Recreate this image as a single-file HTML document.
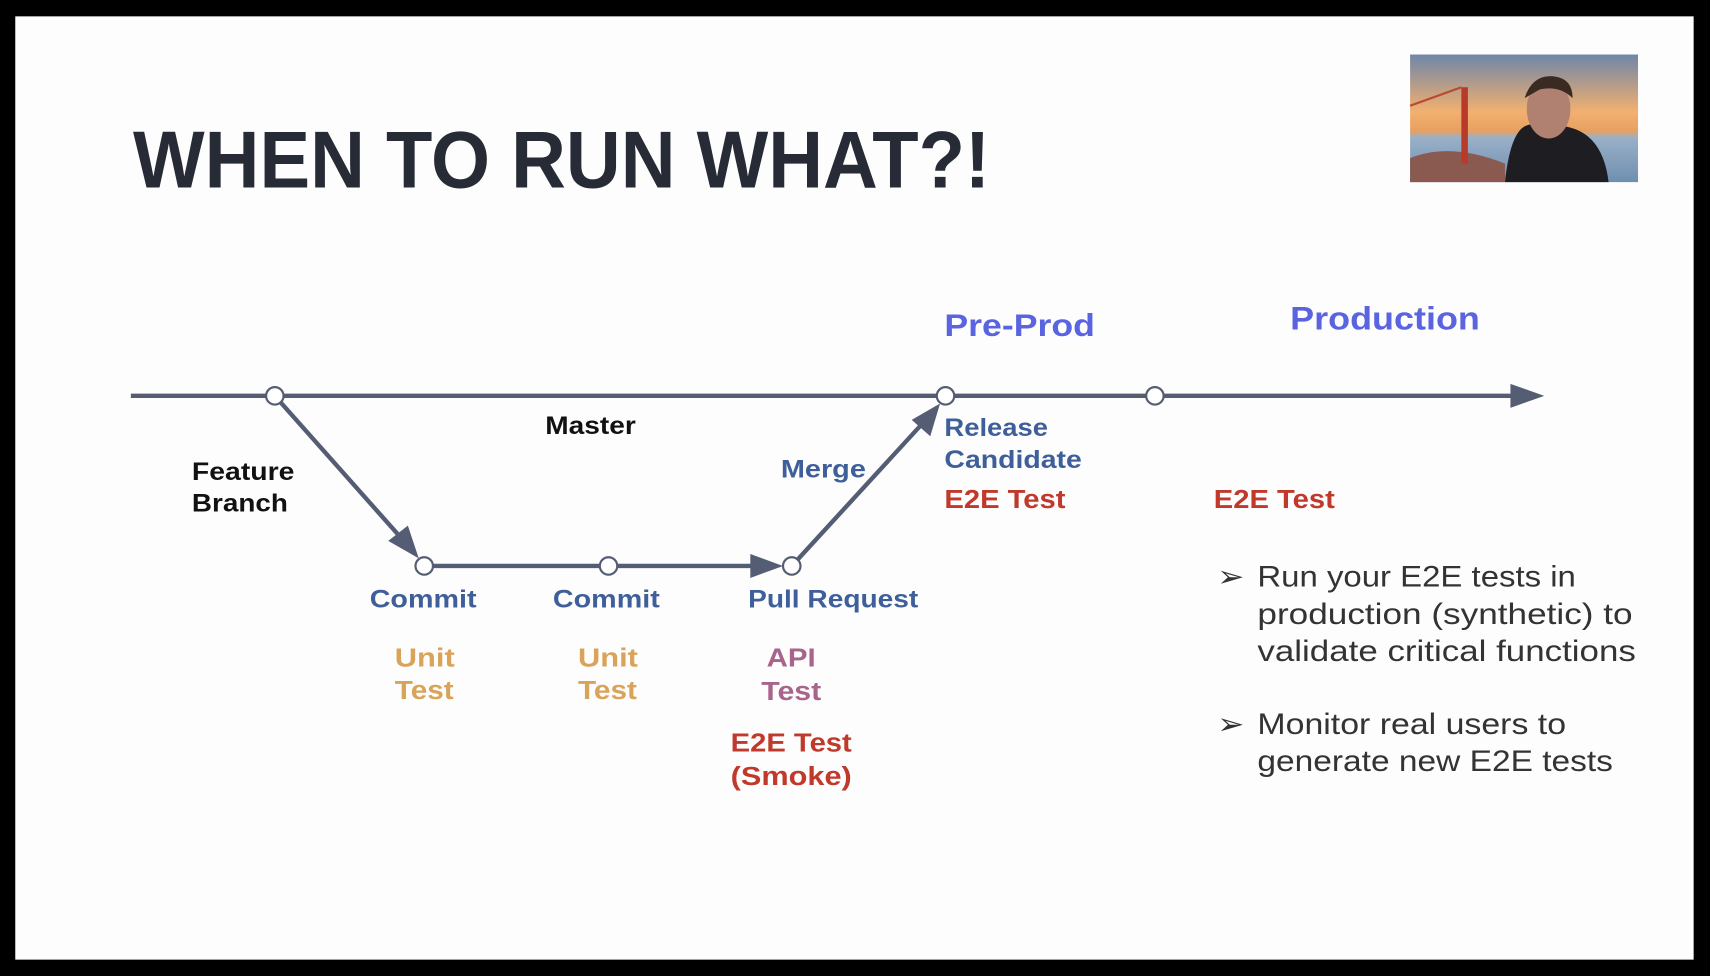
<!DOCTYPE html>
<html><head><meta charset="utf-8"><style>
html,body{margin:0;padding:0;background:#000;}
svg{display:block;}
text{font-family:"Liberation Sans",sans-serif;}
</style></head><body>
<svg width="1710" height="976" viewBox="0 0 1568 895" preserveAspectRatio="none" xmlns="http://www.w3.org/2000/svg">
<rect x="0" y="0" width="1568" height="895" fill="#000"/>
<rect x="14" y="15" width="1539" height="865" fill="#fdfdfd"/>
<defs>
<linearGradient id="sky" x1="0" y1="0" x2="0" y2="1">
<stop offset="0" stop-color="#6f86a8"/><stop offset="0.45" stop-color="#f2b070"/><stop offset="0.6" stop-color="#e8a060"/><stop offset="0.65" stop-color="#9ab0c8"/><stop offset="1" stop-color="#6f8fb0"/>
</linearGradient>
</defs>
<rect x="1293" y="50" width="209" height="117" fill="url(#sky)"/>
<path d="M1293 145 Q1330 130 1380 150 L1380 167 L1293 167Z" fill="#8a5a50"/>
<rect x="1340" y="80" width="6" height="70" fill="#b83a2a"/>
<line x1="1293" y1="97" x2="1340" y2="80" stroke="#b84a30" stroke-width="2"/>
<path d="M1380 167 Q1385 120 1400 115 Q1415 110 1440 117 Q1470 125 1475 167Z" fill="#1e1e22"/>
<ellipse cx="1420" cy="100" rx="20" ry="27" fill="#b08070"/>
<path d="M1398 90 Q1405 68 1425 70 Q1442 72 1442 90 Q1430 78 1412 82Z" fill="#3a2a22"/>
<text x="122" y="172" font-weight="bold" font-size="74" fill="#262b36" textLength="786" lengthAdjust="spacingAndGlyphs">WHEN TO RUN WHAT?!</text>
<g stroke="#555d75" stroke-width="4" fill="none">
<line x1="120" y1="363" x2="1390" y2="363"/>
<line x1="252" y1="363" x2="372" y2="498"/>
<line x1="389" y1="519" x2="692" y2="519"/>
<line x1="726" y1="519" x2="848" y2="386"/>
</g>
<g fill="#555d75">
<polygon points="1416,363 1385,352 1385,374"/>
<polygon points="384,512 356,496 374,482"/>
<polygon points="718,519 688,508 688,530"/>
<polygon points="862,370 853,400 836,385"/>
</g>
<g fill="#fff" stroke="#555d75" stroke-width="2">
<circle cx="252" cy="363" r="8"/><circle cx="867" cy="363" r="8"/><circle cx="1059" cy="363" r="8"/>
<circle cx="389" cy="519" r="8"/><circle cx="558" cy="519" r="8"/><circle cx="726" cy="519" r="8"/>
</g>
<g font-weight="bold">
<text x="866" y="308" font-size="29" fill="#5a63e0" textLength="138" lengthAdjust="spacingAndGlyphs">Pre-Prod</text>
<text x="1183" y="302" font-size="30" fill="#5a63e0" textLength="174" lengthAdjust="spacingAndGlyphs">Production</text>
<text x="500" y="398" font-size="23" fill="#111" textLength="83" lengthAdjust="spacingAndGlyphs">Master</text>
<text x="176" y="440" font-size="23" fill="#111" textLength="94" lengthAdjust="spacingAndGlyphs">Feature</text>
<text x="176" y="469" font-size="23" fill="#111" textLength="88" lengthAdjust="spacingAndGlyphs">Branch</text>
<text x="716" y="438" font-size="23" fill="#3e5f9a" textLength="78" lengthAdjust="spacingAndGlyphs">Merge</text>
<text x="866" y="400" font-size="23" fill="#3e5f9a" textLength="95" lengthAdjust="spacingAndGlyphs">Release</text>
<text x="866" y="429" font-size="23" fill="#3e5f9a" textLength="126" lengthAdjust="spacingAndGlyphs">Candidate</text>
<text x="866" y="466" font-size="24" fill="#c0392b" textLength="111" lengthAdjust="spacingAndGlyphs">E2E Test</text>
<text x="1113" y="466" font-size="24" fill="#c0392b" textLength="111" lengthAdjust="spacingAndGlyphs">E2E Test</text>
<text x="339" y="557" font-size="23" fill="#3e5f9a" textLength="98" lengthAdjust="spacingAndGlyphs">Commit</text>
<text x="507" y="557" font-size="23" fill="#3e5f9a" textLength="98" lengthAdjust="spacingAndGlyphs">Commit</text>
<text x="686" y="557" font-size="23" fill="#3e5f9a" textLength="156" lengthAdjust="spacingAndGlyphs">Pull Request</text>
<text x="362" y="611" font-size="24" fill="#d9a35a" textLength="55" lengthAdjust="spacingAndGlyphs">Unit</text>
<text x="362" y="641" font-size="24" fill="#d9a35a" textLength="54" lengthAdjust="spacingAndGlyphs">Test</text>
<text x="530" y="611" font-size="24" fill="#d9a35a" textLength="55" lengthAdjust="spacingAndGlyphs">Unit</text>
<text x="530" y="641" font-size="24" fill="#d9a35a" textLength="54" lengthAdjust="spacingAndGlyphs">Test</text>
<text x="703" y="611" font-size="24" fill="#a8648a" textLength="45" lengthAdjust="spacingAndGlyphs">API</text>
<text x="698" y="642" font-size="24" fill="#a8648a" textLength="55" lengthAdjust="spacingAndGlyphs">Test</text>
<text x="670" y="689" font-size="24" fill="#c0392b" textLength="111" lengthAdjust="spacingAndGlyphs">E2E Test</text>
<text x="670" y="720" font-size="24" fill="#c0392b" textLength="111" lengthAdjust="spacingAndGlyphs">(Smoke)</text>
</g>
<g font-size="27" fill="#333">
<text x="1116" y="538" textLength="25" lengthAdjust="spacingAndGlyphs">➢</text>
<text x="1153" y="538" textLength="292" lengthAdjust="spacingAndGlyphs">Run your E2E tests in</text>
<text x="1153" y="572" textLength="344" lengthAdjust="spacingAndGlyphs">production (synthetic) to</text>
<text x="1153" y="606" textLength="347" lengthAdjust="spacingAndGlyphs">validate critical functions</text>
<text x="1116" y="673" textLength="25" lengthAdjust="spacingAndGlyphs">➢</text>
<text x="1153" y="673" textLength="283" lengthAdjust="spacingAndGlyphs">Monitor real users to</text>
<text x="1153" y="707" textLength="326" lengthAdjust="spacingAndGlyphs">generate new E2E tests</text>
</g>
</svg>
</body></html>
